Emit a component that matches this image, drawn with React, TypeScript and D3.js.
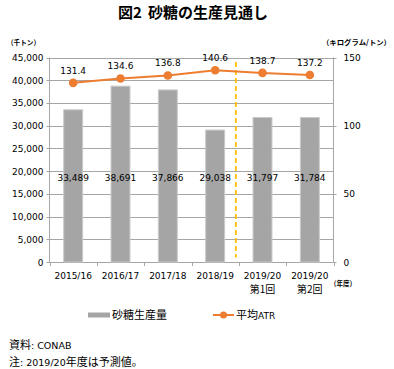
import * as d3 from "d3";

const categories = ["2015/16", "2016/17", "2017/18", "2018/19", "2019/20", "2019/20"];
const subLabels = ["", "", "", "", "第1回", "第2回"];
const sugarOutput = [33489, 38691, 37866, 29038, 31797, 31784];
const avgAtr = [131.4, 134.6, 136.8, 140.6, 138.7, 137.2];
const leftTicks = [0, 5000, 10000, 15000, 20000, 25000, 30000, 35000, 40000, 45000];
const rightTicks = [0, 50, 100, 150];
const forecastFrom = 4; // dashed line before this category
const barLabelLevel = 18500;

const W = 394;
const H = 369;
const plot = { left: 49.5, right: 333.5, top: 57.5, bottom: 262 };

const NUM_FONT = "'DejaVu Sans', 'Noto Sans CJK JP', sans-serif";
const JP_FONT = "'Noto Sans CJK JP', sans-serif";
const ORANGE = "#ED7D31";
const GRID = "#a6a6a6";

export default function App() {
  const x = d3
    .scaleBand<number>()
    .domain(d3.range(categories.length))
    .range([plot.left, plot.right])
    .padding(0);
  const yL = d3.scaleLinear().domain([0, 45000]).range([plot.bottom, plot.top]);
  const yR = d3.scaleLinear().domain([0, 150]).range([plot.bottom, plot.top]);

  const bw = x.bandwidth();
  const barW = bw * 0.4;
  const cx = (i: number) => (x(i) ?? 0) + bw / 2;
  const fmt = d3.format(",");

  const line = d3
    .line<number>()
    .x((_, i) => cx(i))
    .y((d) => yR(d));

  const dashX = (x(forecastFrom) ?? 0) - 3;

  return (
    <svg
      width={W}
      height={H}
      style={{ position: "absolute", left: 0, top: 0, background: "#fff" }}
    >
      {/* title */}
      <text y={18} fontFamily={JP_FONT} fontWeight="bold" fontSize={15} fill="#000">
        <tspan x={118}>図2</tspan>
        <tspan x={148}>砂糖の生産見通し</tspan>
      </text>

      {/* unit labels */}
      <text
        x={7}
        y={45}
        fontFamily={JP_FONT}
        fontWeight="bold"
        fontSize={7}
        textLength={33}
        lengthAdjust="spacingAndGlyphs"
      >
        （千トン）
      </text>
      <text
        x={322}
        y={45}
        fontFamily={JP_FONT}
        fontWeight="bold"
        fontSize={7}
        textLength={69}
        lengthAdjust="spacingAndGlyphs"
      >
        （キログラム/トン）
      </text>

      {/* gridlines + left ticks */}
      {leftTicks.map((t) => (
        <g key={t}>
          <line
            x1={plot.left - 3}
            x2={plot.right}
            y1={Math.round(yL(t)) + 0.5}
            y2={Math.round(yL(t)) + 0.5}
            stroke={GRID}
          />
          <text
            x={plot.left - 6}
            y={yL(t) + 3.5}
            textAnchor="end"
            fontFamily={NUM_FONT}
            fontSize={9}
            fill="#000"
          >
            {fmt(t)}
          </text>
        </g>
      ))}

      {/* right axis */}
      <line x1={plot.right} x2={plot.right} y1={plot.top} y2={plot.bottom} stroke={GRID} />
      {rightTicks.map((t) => (
        <g key={t}>
          <line
            x1={plot.right}
            x2={plot.right + 3}
            y1={Math.round(yR(t)) + 0.5}
            y2={Math.round(yR(t)) + 0.5}
            stroke={GRID}
          />
          <text
            x={plot.right + 10}
            y={yR(t) + 3.5}
            fontFamily={NUM_FONT}
            fontSize={9}
            fill="#000"
          >
            {t}
          </text>
        </g>
      ))}

      {/* left axis line */}
      <line x1={plot.left} x2={plot.left} y1={plot.top} y2={plot.bottom} stroke={GRID} />

      {/* category ticks */}
      {d3.range(categories.length + 1).map((i) => {
        const xx = i < categories.length ? x(i) ?? 0 : plot.right;
        return (
          <line
            key={i}
            x1={Math.round(xx) + 0.5}
            x2={Math.round(xx) + 0.5}
            y1={plot.bottom}
            y2={plot.bottom + 4}
            stroke={GRID}
          />
        );
      })}

      {/* bars */}
      {sugarOutput.map((v, i) => (
        <rect
          key={i}
          x={cx(i) - barW / 2}
          y={yL(v)}
          width={barW}
          height={plot.bottom - yL(v)}
          fill="#a5a5a5"
          stroke="#c9c9c9"
          strokeWidth={1}
        />
      ))}

      {/* bar labels */}
      {sugarOutput.map((v, i) => (
        <text
          key={i}
          x={cx(i)}
          y={yL(barLabelLevel) + 3}
          textAnchor="middle"
          fontFamily={NUM_FONT}
          fontSize={9}
          fill="#000"
        >
          {fmt(v)}
        </text>
      ))}

      {/* forecast divider */}
      <line
        x1={dashX}
        x2={dashX}
        y1={yL(44000)}
        y2={yL(1000)}
        stroke="#FFC000"
        strokeWidth={1.8}
        strokeDasharray="5,3"
      />

      {/* ATR line */}
      <path d={line(avgAtr) ?? ""} fill="none" stroke={ORANGE} strokeWidth={2} />
      {avgAtr.map((v, i) => (
        <circle key={i} cx={cx(i)} cy={yR(v)} r={4.3} fill={ORANGE} />
      ))}
      {avgAtr.map((v, i) => (
        <text
          key={i}
          x={cx(i)}
          y={yR(v) - 9}
          textAnchor="middle"
          fontFamily={NUM_FONT}
          fontSize={9}
          fill="#000"
        >
          {v.toFixed(1)}
        </text>
      ))}

      {/* category labels */}
      {categories.map((c, i) => (
        <g key={i}>
          <text
            x={cx(i)}
            y={plot.bottom + 17}
            textAnchor="middle"
            fontFamily={NUM_FONT}
            fontSize={9}
            fill="#000"
          >
            {c}
          </text>
          {subLabels[i] && (
            <text
              x={cx(i)}
              y={plot.bottom + 31}
              textAnchor="middle"
              fontFamily={JP_FONT}
              fontSize={10}
              fill="#000"
            >
              {subLabels[i]}
            </text>
          )}
        </g>
      ))}
      <text
        x={330}
        y={286}
        fontFamily={JP_FONT}
        fontWeight="bold"
        fontSize={7}
        textLength={26}
        lengthAdjust="spacingAndGlyphs"
      >
        （年度）
      </text>

      {/* legend */}
      <rect x={88} y={312.5} width={22} height={5} fill="#a5a5a5" />
      <text x={112} y={319} fontFamily={JP_FONT} fontSize={11} fill="#000">
        砂糖生産量
      </text>
      <line x1={213} x2={234} y1={315} y2={315} stroke={ORANGE} strokeWidth={2} />
      <circle cx={223.5} cy={315} r={3.5} fill={ORANGE} />
      <text x={236} y={319} fontFamily={JP_FONT} fontSize={11} fill="#000">
        平均<tspan fontFamily={NUM_FONT} fontSize={9}>ATR</tspan>
      </text>

      {/* notes */}
      <text x={9} y={349} fontFamily={JP_FONT} fontSize={11} fill="#000">
        資料<tspan fontFamily={NUM_FONT} fontSize={9.5}>: CONAB</tspan>
      </text>
      <text x={9} y={366} fontFamily={JP_FONT} fontSize={11} fill="#000">
        注<tspan fontFamily={NUM_FONT} fontSize={9.5}>: 2019/20</tspan>年度は予測値。
      </text>
    </svg>
  );
}
